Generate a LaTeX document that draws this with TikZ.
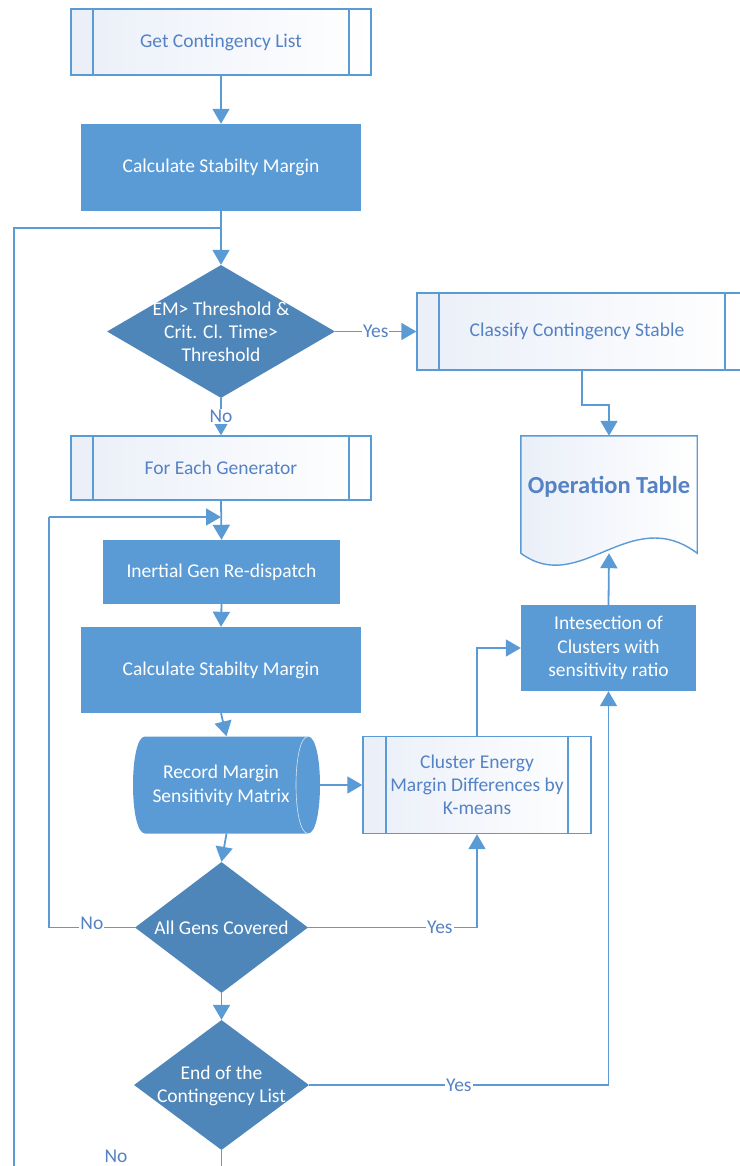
\documentclass[tikz,border=0pt]{standalone}
\usepackage{fontspec}
\setmainfont{Carlito}
\usetikzlibrary{shapes.geometric,arrows.meta,calc}
\definecolor{boxblue}{RGB}{91,155,213}
\definecolor{diablue}{RGB}{79,134,186}
\definecolor{linkblue}{RGB}{91,155,213}
\definecolor{txtblue}{RGB}{84,130,196}
\definecolor{subshade}{RGB}{234,239,248}
\begin{document}
\begin{tikzpicture}[x=1pt,y=-1pt,
  font=\fontsize{19.5}{23}\selectfont,
  flow/.style={draw=linkblue,line width=1.8pt,-{Triangle[width=17pt,length=15pt]}},
  plain/.style={draw=linkblue,line width=1.8pt},
  proc/.style={rectangle,fill=boxblue,text=white,inner sep=0pt,align=center},
  subproc/.style={rectangle,draw=linkblue,line width=1.4pt,left color=subshade,right color=white,
    text=txtblue,align=center,inner sep=0pt,
    path picture={\draw[linkblue,line width=1.4pt]
      ([xshift=#1]path picture bounding box.north west) -- ([xshift=#1]path picture bounding box.south west)
      ([xshift=-#1]path picture bounding box.north east) -- ([xshift=-#1]path picture bounding box.south east);}},
  subproc/.default=22pt,
  decision/.style={diamond,fill=diablue,inner sep=0pt},
  dtext/.style={text=white,align=center,font=\fontsize{19.5}{23}\selectfont},
  lbl/.style={fill=white,text=txtblue,inner sep=1pt}
]
\useasboundingbox (0,0) rectangle (739,1166);

% main column
\node[subproc,minimum width=300pt,minimum height=66pt] (gcl) at (221,42) {Get Contingency List};
\node[proc,minimum width=280pt,minimum height=87pt] (csm1) at (221,167.5) {Calculate Stabilty Margin};
\node[decision,minimum width=228pt,minimum height=133pt] (d1) at (221,331.5) {};
\node[dtext] (d1t) at (221,332) {EM> Threshold \&\\Crit. Cl. Time>\\Threshold};
\node[subproc,minimum width=330pt,minimum height=77pt] (cls) at (582,331.5) {\hspace*{-10pt}Classify Contingency Stable};
\node[subproc,minimum width=300pt,minimum height=64pt] (feg) at (221,468) {For Each Generator};
\node[proc,minimum width=237pt,minimum height=64pt] (igr) at (221.5,572) {Inertial Gen Re-dispatch};
\node[proc,minimum width=280pt,minimum height=86pt] (csm2) at (221,670) {Calculate Stabilty Margin};

% stored data drum
\node[minimum width=187pt,minimum height=97pt,inner sep=0pt] (rec) at (226.5,785) {};
\fill[boxblue] (145,736.5) -- (308,736.5) .. controls (324,736.5) and (324,833.5) .. (308,833.5)
  -- (145,833.5) .. controls (129,833.5) and (129,736.5) .. (145,736.5) -- cycle;
\draw[white!75!boxblue,line width=0.6pt] (308,736.5) .. controls (292,736.5) and (292,833.5) .. (308,833.5);
\node[text=white,align=center,font=\fontsize{19.5}{24}\selectfont] (rect) at (221,785) {Record Margin\\Sensitivity Matrix};

\node[subproc=23pt,minimum width=228pt,minimum height=97pt,font=\fontsize{19.5}{23}\selectfont] (cke) at (477,785)
  {Cluster Energy\\Margin Differences by\\K-means};
\node[decision,minimum width=173pt,minimum height=131pt] (d2) at (221.5,927.5) {};
\node[dtext] (d2t) at (221.5,928) {All Gens Covered};
\node[decision,minimum width=175pt,minimum height=130pt] (d3) at (221.5,1085) {};
\node[dtext] (d3t) at (221.5,1086) {End of the\\Contingency List};

% right column
\node[proc,minimum width=175pt,minimum height=86pt,font=\fontsize{19.5}{23.5}\selectfont] (ict) at (608.5,648)
  {Intesection of\\Clusters with\\sensitivity ratio};
\node[minimum width=176pt,minimum height=117pt,inner sep=0pt] (opt) at (609,494.5) {};
\path[draw=linkblue,line width=1.4pt,left color=subshade,right color=white]
  (opt.north west) -- (opt.north east) -- (opt.south east)
  .. controls (630,503) and (580,597) .. (opt.south west) -- cycle;
\node[text=txtblue,font=\bfseries\fontsize{24.5}{28}\selectfont] (optt) at (609,487) {Operation Table};

% helper points
\coordinate (join) at (221,228);
\coordinate (lt) at (14,228);
\coordinate (lb) at (14,1166);
\coordinate (btm) at (221.5,1166);
\coordinate (nl) at (49,927.5);
\coordinate (nt) at (49,517);
\coordinate (loopin) at (221,517);

% connectors
\draw[flow] (gcl.south) -- (csm1.north);
\draw[flow] (csm1.south) -- (d1.north);
\draw[plain] (lb) -- (lt) -- (join);
\draw[flow] (d1.east) -- node[lbl] {Yes} (cls.west);
\draw[flow] (d1.south) -- node[lbl] {No} (feg.north);
\draw[flow] (cls.south) -- ++(0,34) -| (opt.north);
\draw[flow] (feg.south) -- (igr.north);
\draw[flow] (nt) -- (loopin);
\draw[flow] (igr.south) -- (csm2.north);
\draw[flow] (csm2.south) -- (rec.north);
\draw[flow] (rec.east) -- (cke.west);
\draw[flow] (rec.south) -- (d2.north);
\draw[plain] (d2.west) -- node[lbl,yshift=4pt] {No} (nl) -- (nt);
\draw[flow] (d2.east) -- node[lbl,pos=0.78] {Yes} (d2.east -| cke.south) -- (cke.south);
\draw[flow] (cke.north) |- (ict.west);
\draw[flow] (ict.north) -- (opt.south);
\draw[flow] (d2.south) -- (d3.north);
\draw[flow] (d3.east) -- node[lbl] {Yes} (d3.east -| ict.south) -- (ict.south);
\draw[plain] (d3.south) -- (btm);
\node[lbl] (nob) at (116,1156) {No};
\end{tikzpicture}
\end{document}
